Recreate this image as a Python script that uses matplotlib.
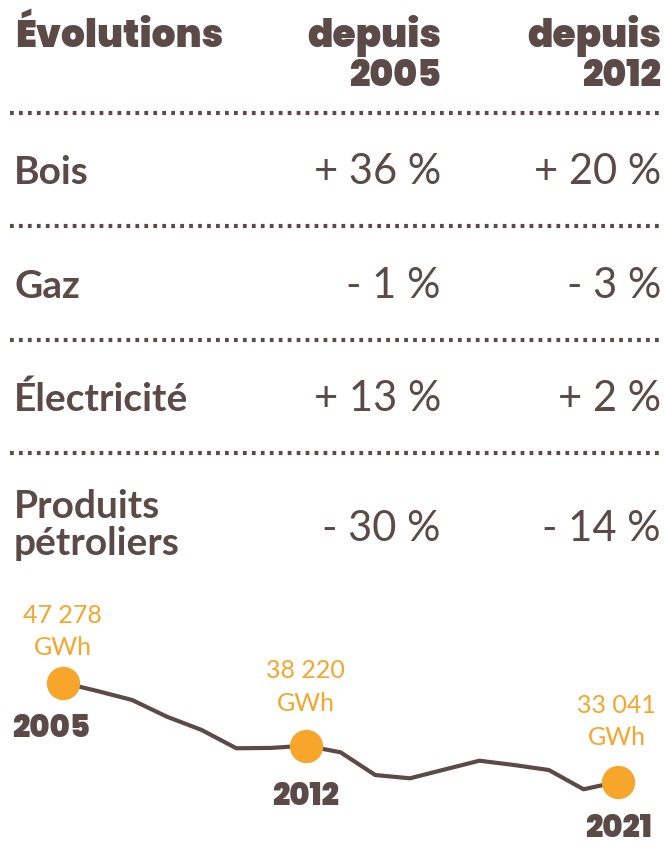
import matplotlib
matplotlib.use("Agg")
import matplotlib.pyplot as plt
from matplotlib.lines import Line2D

# ---- data ----
header_title = "Évolutions"
header_cols = [("depuis", "2005"), ("depuis", "2012")]
categories = ["Bois", "Gaz", "Électricité", "Produits\npétroliers"]
since_2005 = ["+ 36 %", "- 1 %", "+ 13 %", "- 30 %"]
since_2012 = ["+ 20 %", "- 3 %", "+ 2 %", "- 14 %"]

years = list(range(2005, 2022))
consumption = [47278, 46080, 44790, 42390, 40480, 37850, 37900, 38220, 37270,
               34000, 33530, 34800, 36060, 35440, 34720, 31950, 33041]
highlight_years = [2005, 2012, 2021]
highlight_values = ["47 278", "38 220", "33 041"]
unit = "GWh"

BROWN = "#5b4a47"
ORANGE = "#f7a52b"
W, H = 665, 849
HEAVY = dict(family=['Poppins', 'DejaVu Sans'], fontweight=900)

plt.rcParams['font.family'] = ['Lato', 'DejaVu Sans']
fig = plt.figure(figsize=(W / 100, H / 100), dpi=100)

def fx(x):
    return x / W

def fy(y):
    return 1 - y / H

# header
fig.text(fx(15), fy(47), header_title, fontsize=27, color=BROWN, ha='left', va='baseline', **HEAVY)
for (l1, l2), xr in zip(header_cols, [441, 661]):
    fig.text(fx(xr), fy(47), l1, fontsize=27, color=BROWN, ha='right', va='baseline', **HEAVY)
    fig.text(fx(xr), fy(86), l2, fontsize=26, color=BROWN, ha='right', va='baseline', **HEAVY)

# dotted separators
for ysep in [113, 226, 340, 453]:
    fig.add_artist(Line2D([fx(10), fx(661)], [fy(ysep), fy(ysep)], color=BROWN,
                          lw=3.0, linestyle=(0, (0.9, 1.25)), dash_capstyle='butt'))

row_base = [184, 298, 411, 541]
for cat, a, b, yb in zip(categories, since_2005, since_2012, row_base):
    if "\n" in cat:
        l1, l2 = cat.split("\n")
        fig.text(fx(14), fy(518), l1, fontsize=28, fontweight='bold', color=BROWN,
                 ha='left', va='baseline')
        fig.text(fx(14), fy(555), l2, fontsize=28, fontweight='bold', color=BROWN,
                 ha='left', va='baseline')
    else:
        fig.text(fx(14), fy(yb), cat, fontsize=28, fontweight='bold', color=BROWN,
                 ha='left', va='baseline')
    fig.text(fx(441), fy(yb), a, fontsize=30, color=BROWN, ha='right', va='baseline')
    fig.text(fx(661), fy(yb), b, fontsize=30, color=BROWN, ha='right', va='baseline')

# line chart
ax = fig.add_axes([0, 0, 1, fy(580)])
px_per_year = (618.3 - 62.7) / 16
x0 = 2005 - 62.7 / px_per_year
ax.set_xlim(x0, x0 + W / px_per_year)
val_per_px = (47278 - 33041) / (781.7 - 682.7)
ytop = 47278 + (682.7 - 580) * val_per_px
ybot = 33041 - (849 - 781.7) * val_per_px
ax.set_ylim(ybot, ytop)
ax.axis('off')

ax.plot(years, consumption, color=BROWN, lw=3.0, solid_joinstyle='round', zorder=2)
hv = [consumption[years.index(y)] for y in highlight_years]
ax.plot(highlight_years, hv, 'o', color=ORANGE, markersize=23, zorder=3)

# offsets in points (value line baseline, unit line baseline, year baseline)
val_off = [(0, 43), (0, 49), (-1, 49.5)]
unit_off = [(0, 20), (0, 25), (-1, 26.4)]
year_off = [(-8, -39), (0, -43), (0.5, -40)]
for yr, v, lab, vo, uo, yo in zip(highlight_years, hv, highlight_values, val_off, unit_off, year_off):
    ax.annotate(lab, (yr, v), xytext=vo, textcoords='offset points', ha='center',
                va='baseline', fontsize=18, color=ORANGE)
    ax.annotate(unit, (yr, v), xytext=uo, textcoords='offset points', ha='center',
                va='baseline', fontsize=18, color=ORANGE)
    ax.annotate(str(yr), (yr, v), xytext=yo, textcoords='offset points', ha='center',
                va='baseline', fontsize=22, color=BROWN, **HEAVY)

fig.savefig("out.png", dpi=100)
